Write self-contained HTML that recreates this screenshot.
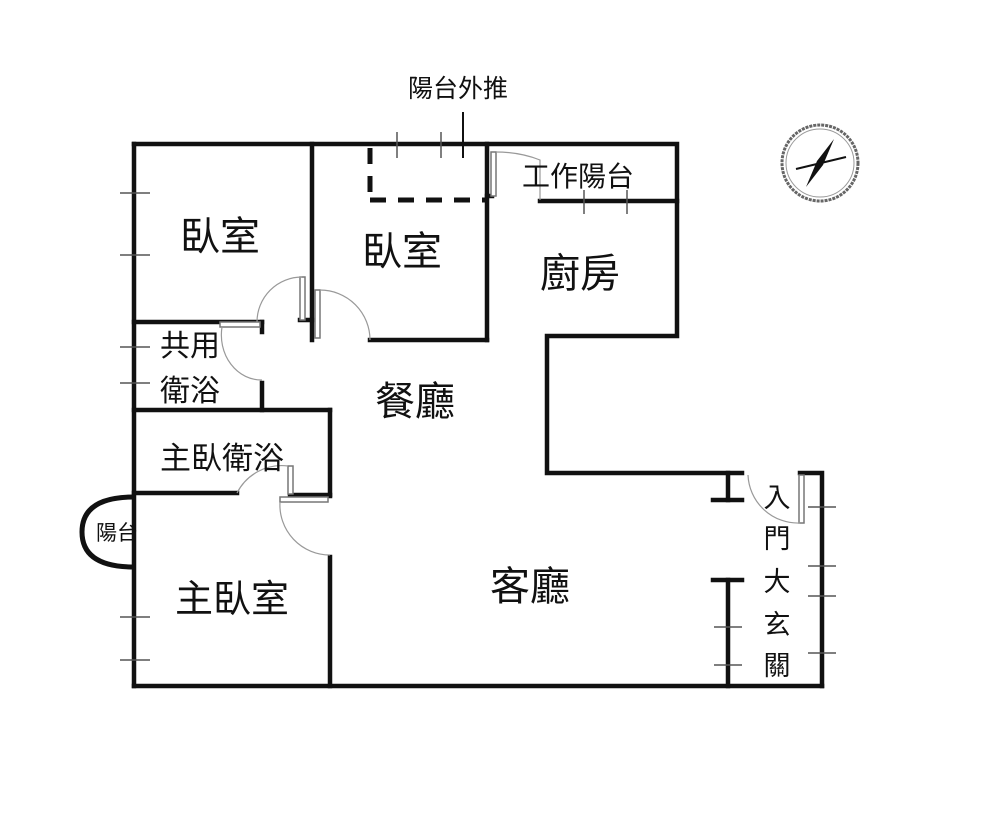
<!DOCTYPE html>
<html><head><meta charset="utf-8"><style>
html,body{margin:0;padding:0;background:#fff;}
svg{display:block;}
text{font-family:"Liberation Sans","Noto Sans CJK TC",sans-serif;fill:#111;}
</style></head><body>
<svg width="1000" height="823" viewBox="0 0 1000 823" xmlns="http://www.w3.org/2000/svg">
<g stroke="#111" stroke-width="4.5" fill="none" stroke-linecap="square">
<polyline points="134,144 677,144 677,336 547,336 547,473 742,473"/>
<line x1="134" y1="144" x2="134" y2="686"/>
<line x1="134" y1="686" x2="822" y2="686"/>
<polyline points="800,473 822,473 822,686"/>
<line x1="312" y1="144" x2="312" y2="340"/>
<line x1="300" y1="320" x2="312" y2="320"/>
<line x1="487" y1="144" x2="487" y2="340"/>
<line x1="370" y1="340" x2="487" y2="340"/>
<line x1="134" y1="322" x2="262" y2="322"/>
<line x1="262" y1="322" x2="262" y2="332"/>
<line x1="262" y1="383" x2="262" y2="410"/>
<line x1="134" y1="410" x2="330" y2="410"/>
<line x1="330" y1="410" x2="330" y2="496"/>
<line x1="134" y1="493" x2="237" y2="493"/>
<line x1="290" y1="495" x2="330" y2="495"/>
<line x1="330" y1="557" x2="330" y2="686"/>
<line x1="540" y1="201" x2="677" y2="201"/>
<line x1="487" y1="196" x2="492" y2="196"/>
<line x1="713" y1="500" x2="742" y2="500"/>
<line x1="728" y1="473" x2="728" y2="500"/>
<line x1="713" y1="580" x2="742" y2="580"/>
<line x1="728" y1="580" x2="728" y2="686"/>
</g>
<g stroke="#111" stroke-width="5" fill="none" stroke-dasharray="16,12">
<line x1="370" y1="148" x2="370" y2="200"/>
<line x1="370" y1="200" x2="487" y2="200"/>
</g>
<path d="M134,497 Q82,497 82,532 Q82,567 134,567" stroke="#111" stroke-width="5" fill="none"/>
<g stroke="#777" stroke-width="1.5" fill="#fff">
<rect x="300" y="277" width="5" height="43"/>
<rect x="315" y="290" width="5" height="48"/>
<rect x="220" y="322" width="40" height="5"/>
<rect x="288" y="466" width="5" height="28"/>
<rect x="280" y="497" width="48" height="5"/>
<rect x="491" y="152" width="5" height="44"/>
<rect x="799" y="475" width="5" height="48"/>
</g>
<g stroke="#999" stroke-width="1.2" fill="none">
<path d="M302,277 A45,45 0 0 0 257,322"/>
<path d="M320,290 A50,50 0 0 1 370,340"/>
<path d="M222,327 A40,45 0 0 0 262,380"/>
<path d="M237,493 A50,50 0 0 1 288,466"/>
<path d="M280,502 A50,50 0 0 0 330,555"/>
<path d="M496,152 Q520,152 540,160 L540,200"/>
<path d="M748,475 A50,50 0 0 0 800,523"/>
</g>
<g stroke="#555" stroke-width="1.5">
<line x1="120" y1="193" x2="150" y2="193"/><line x1="120" y1="255" x2="150" y2="255"/>
<line x1="120" y1="347" x2="150" y2="347"/><line x1="120" y1="383" x2="150" y2="383"/>
<line x1="120" y1="617" x2="150" y2="617"/><line x1="120" y1="660" x2="150" y2="660"/>
<line x1="808" y1="507" x2="836" y2="507"/><line x1="808" y1="566" x2="836" y2="566"/>
<line x1="808" y1="596" x2="836" y2="596"/><line x1="808" y1="653" x2="836" y2="653"/>
<line x1="714" y1="627" x2="742" y2="627"/><line x1="714" y1="665" x2="742" y2="665"/>
<line x1="397" y1="132" x2="397" y2="158"/><line x1="441" y1="132" x2="441" y2="158"/>
<line x1="463" y1="112" x2="463" y2="158" stroke="#111" stroke-width="2"/>
<line x1="584" y1="190" x2="584" y2="214"/><line x1="627" y1="190" x2="627" y2="214"/>
</g>
<g transform="translate(820,163)">
<circle r="38" fill="none" stroke="#666" stroke-width="3" stroke-dasharray="3,1"/>
<circle r="34" fill="none" stroke="#999" stroke-width="1"/>
<line x1="-24" y1="6" x2="26" y2="-6" stroke="#111" stroke-width="2"/>
<path d="M14,-24 L3,2 L-14,24 L-3,-2 Z" fill="#111"/>
</g>
<g text-anchor="middle">
<text x="220" y="250" font-size="40">臥室</text>
<text x="402" y="265" font-size="40">臥室</text>
<text x="580" y="287" font-size="40">廚房</text>
<text x="415" y="415" font-size="40">餐廳</text>
<text x="530" y="600" font-size="40">客廳</text>
<text x="232" y="612" font-size="38">主臥室</text>
<text x="190" y="356" font-size="30">共用</text>
<text x="190" y="401" font-size="30">衛浴</text>
<text x="222" y="469" font-size="31">主臥衛浴</text>
<text x="117" y="540" font-size="21">陽台</text>
<text x="578" y="186" font-size="28">工作陽台</text>
<text x="458" y="97" font-size="25">陽台外推</text>
<text x="777" y="507" font-size="27">入</text>
<text x="777" y="548" font-size="27">門</text>
<text x="777" y="591" font-size="27">大</text>
<text x="777" y="634" font-size="27">玄</text>
<text x="777" y="675" font-size="27">關</text>
</g>
</svg>
</body></html>
